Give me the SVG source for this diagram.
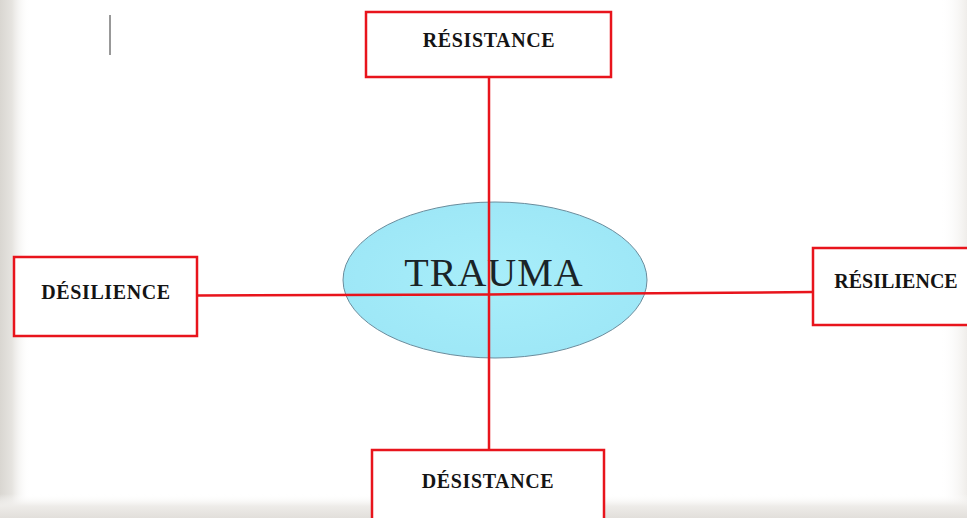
<svg xmlns="http://www.w3.org/2000/svg" width="967" height="518" viewBox="0 0 967 518">
  <defs>
    <linearGradient id="gl" x1="0" y1="0" x2="1" y2="0">
      <stop offset="0" stop-color="#d9d6d1"/>
      <stop offset="0.4" stop-color="#e6e4e0"/>
      <stop offset="1" stop-color="#ffffff" stop-opacity="0"/>
    </linearGradient>
    <linearGradient id="gr" x1="1" y1="0" x2="0" y2="0">
      <stop offset="0" stop-color="#efedea"/>
      <stop offset="1" stop-color="#ffffff" stop-opacity="0"/>
    </linearGradient>
    <linearGradient id="gb" x1="0" y1="1" x2="0" y2="0">
      <stop offset="0" stop-color="#e2dfdb"/>
      <stop offset="0.5" stop-color="#eeece9"/>
      <stop offset="1" stop-color="#ffffff" stop-opacity="0"/>
    </linearGradient>
    <radialGradient id="ge" cx="0.5" cy="0.5" r="0.6">
      <stop offset="0" stop-color="#a8eefa"/>
      <stop offset="1" stop-color="#9ce6f6"/>
    </radialGradient>
  </defs>
  <style>
    .box { fill: #ffffff; stroke: #e8141c; stroke-width: 2.5; }
    .lbl { font-family: "Liberation Serif", "DejaVu Serif", serif; font-weight: bold; font-size: 20px; fill: #141414; text-anchor: middle; letter-spacing: 0.6px; }
    .conn { stroke: #e8141c; stroke-width: 2.5; fill: none; }
  </style>
  <rect x="0" y="0" width="967" height="518" fill="#ffffff"/>
  <rect x="0" y="0" width="30" height="518" fill="url(#gl)"/>
  <rect x="940" y="0" width="27" height="518" fill="url(#gr)"/>
  <rect x="0" y="494" width="967" height="24" fill="url(#gb)"/>
  <line x1="110" y1="15" x2="110" y2="55" stroke="#333333" stroke-width="1"/>

  <g id="trauma">
    <ellipse cx="495" cy="280" rx="152" ry="78" fill="url(#ge)" stroke="#6b8c9c" stroke-width="1"/>
    <text x="494" y="286" font-family="Liberation Serif, DejaVu Serif, serif" font-size="40" fill="#1a2428" text-anchor="middle" letter-spacing="1">TRAUMA</text>
  </g>

  <g id="connectors">
    <line class="conn" x1="489" y1="77" x2="489" y2="450"/>
    <line class="conn" x1="197" y1="295.5" x2="489" y2="294.5"/>
    <line class="conn" x1="489" y1="294.5" x2="813" y2="292"/>
  </g>

  <g id="resistance">
    <rect class="box" x="366" y="12" width="245" height="65"/>
    <text class="lbl" x="489" y="47">RÉSISTANCE</text>
  </g>
  <g id="desilience">
    <rect class="box" x="14" y="257" width="183" height="79"/>
    <text class="lbl" x="106" y="299">DÉSILIENCE</text>
  </g>
  <g id="resilience">
    <rect class="box" x="813" y="248" width="160" height="77"/>
    <text class="lbl" x="896" y="288" style="letter-spacing:0">RÉSILIENCE</text>
  </g>
  <g id="desistance">
    <rect class="box" x="372" y="450" width="232" height="80"/>
    <text class="lbl" x="488" y="488">DÉSISTANCE</text>
  </g>
</svg>
